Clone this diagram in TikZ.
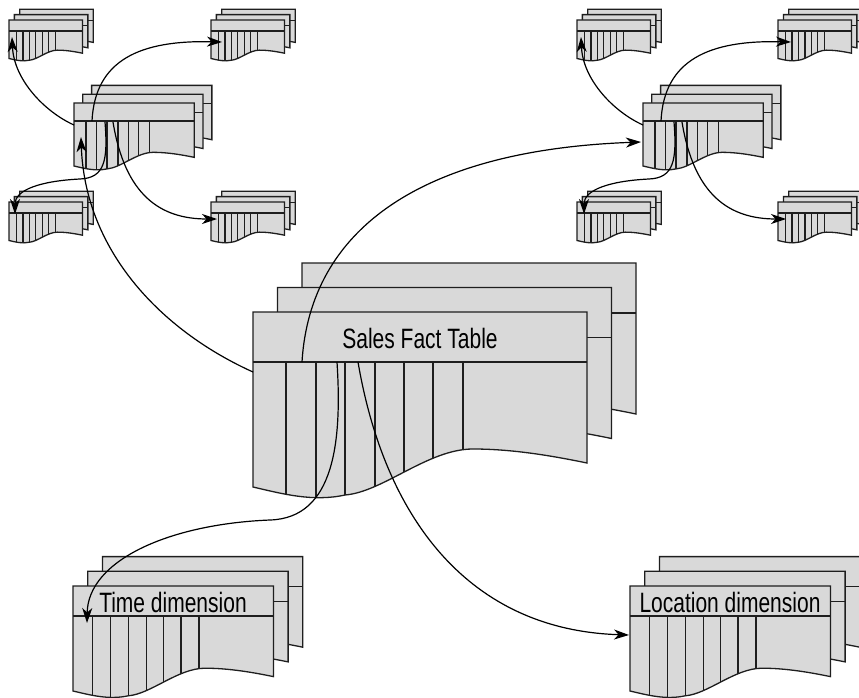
\documentclass[tikz,border=0pt]{standalone}
\usepackage{fontspec}
\setmainfont{Liberation Sans}[FakeStretch=0.75]
\usetikzlibrary{arrows.meta}
\definecolor{sheetfill}{HTML}{D9D9D9}
\definecolor{sheetline}{HTML}{1E1E1E}
\newcommand\tblsheet{(0,0) -- (334,0) -- (334,151) .. controls (300,144) and (260,137) .. (220,137) .. controls (175,137) and (130,180) .. (92,183) .. controls (60,190) and (30,182) .. (0,175) -- cycle}
\tikzset{
  sheet/.style={draw=sheetline, fill=sheetfill, line width=1.3pt},
  rule/.style={draw=sheetline, line width=1.3pt},
  conn/.style={draw=black, line width=1.2pt, -{Stealth[length=15pt,width=10pt,inset=4.5pt]}},
  lbl/.style={font=\fontsize{28}{30}\selectfont, inner sep=0pt, text=black},
  tbl/.pic={
    \foreach \k in {2,1} {
      \begin{scope}[shift={(24.5*\k,-24.5*\k)}]
        \path[sheet] \tblsheet;
        \draw[rule] (0,50) -- (334,50);
      \end{scope}
    }
    \path[fill=sheetfill] \tblsheet;
    \begin{scope}
      \clip \tblsheet;
      \foreach \c in {33,63,92,122,151,180,210} \draw[rule] (\c,50) -- ++(0,160);
    \end{scope}
    \draw[rule] (0,50) -- (334,50);
    \path[sheet, fill=none] \tblsheet;
  }
}
\begin{document}
\begin{tikzpicture}[x=1pt,y=-1pt]
\useasboundingbox (0,0) rectangle (859,698);
\clip (0,0) rectangle (859,698);

% tables
\pic (main) at (253,312) {tbl};
\pic[scale=0.6] (time) at (73,586) {tbl};
\pic[scale=0.6] (loc) at (630,586) {tbl};
\pic[scale=0.36] (hubL) at (74,103) {tbl};
\pic[scale=0.36] (hubR) at (643,103) {tbl};
\foreach \x/\y/\n in {9/20/a,211/20/b,9/202/c,211/202/d,577/20/e,778/20/f,577/202/g,778/202/h}
  \pic[scale=0.22] (s\n) at (\x,\y) {tbl};

% labels
\node[lbl] (salesTxt) at (420,338) {Sales Fact Table};
\node[lbl] (timeTxt) at (173,602) {Time dimension};
\node[lbl] (locTxt) at (730,602) {Location dimension};

% connector end points
\coordinate (mA) at (253,372); \coordinate (hLin) at (81,137);
\coordinate (mB) at (302,362); \coordinate (hRin) at (641,142);
\coordinate (mC) at (337,362); \coordinate (tIn) at (87,623);
\coordinate (mD) at (358,362); \coordinate (lIn) at (629,635);

\draw[conn] (mA) .. controls (160,330) and (85,250) .. (hLin);
\draw[conn] (mB) .. controls (310,230) and (420,150) .. (hRin);
\draw[conn] (mC) .. controls (342,440) and (335,518) .. (270,520) .. controls (170,524) and (88,560) .. (tIn);
\draw[conn] (mD) .. controls (385,520) and (470,630) .. (lIn);

\foreach \dx/\n in {0/L,569/R} {
  \coordinate (h\n1) at ({74+\dx},125);
  \coordinate (h\n2) at ({92+\dx},121);
  \coordinate (h\n3) at ({105+\dx},122);
  \coordinate (h\n4) at ({113+\dx},122);
  \coordinate (t\n1) at ({12+\dx},37);
  \coordinate (t\n2) at ({222+\dx},42);
  \coordinate (t\n3) at ({15+\dx},214);
  \coordinate (t\n4) at ({217+\dx},219);
  \draw[conn] (h\n1) .. controls ({45+\dx},112) and ({14+\dx},80) .. (t\n1);
  \draw[conn] (h\n2) .. controls ({95+\dx},60) and ({140+\dx},40) .. (t\n2);
  \draw[conn] (h\n3) .. controls ({108+\dx},160) and ({105+\dx},178) .. ({80+\dx},179) .. controls ({40+\dx},181) and ({15+\dx},190) .. (t\n3);
  \draw[conn] (h\n4) .. controls ({125+\dx},195) and ({160+\dx},219) .. (t\n4);
}
\end{tikzpicture}
\end{document}
